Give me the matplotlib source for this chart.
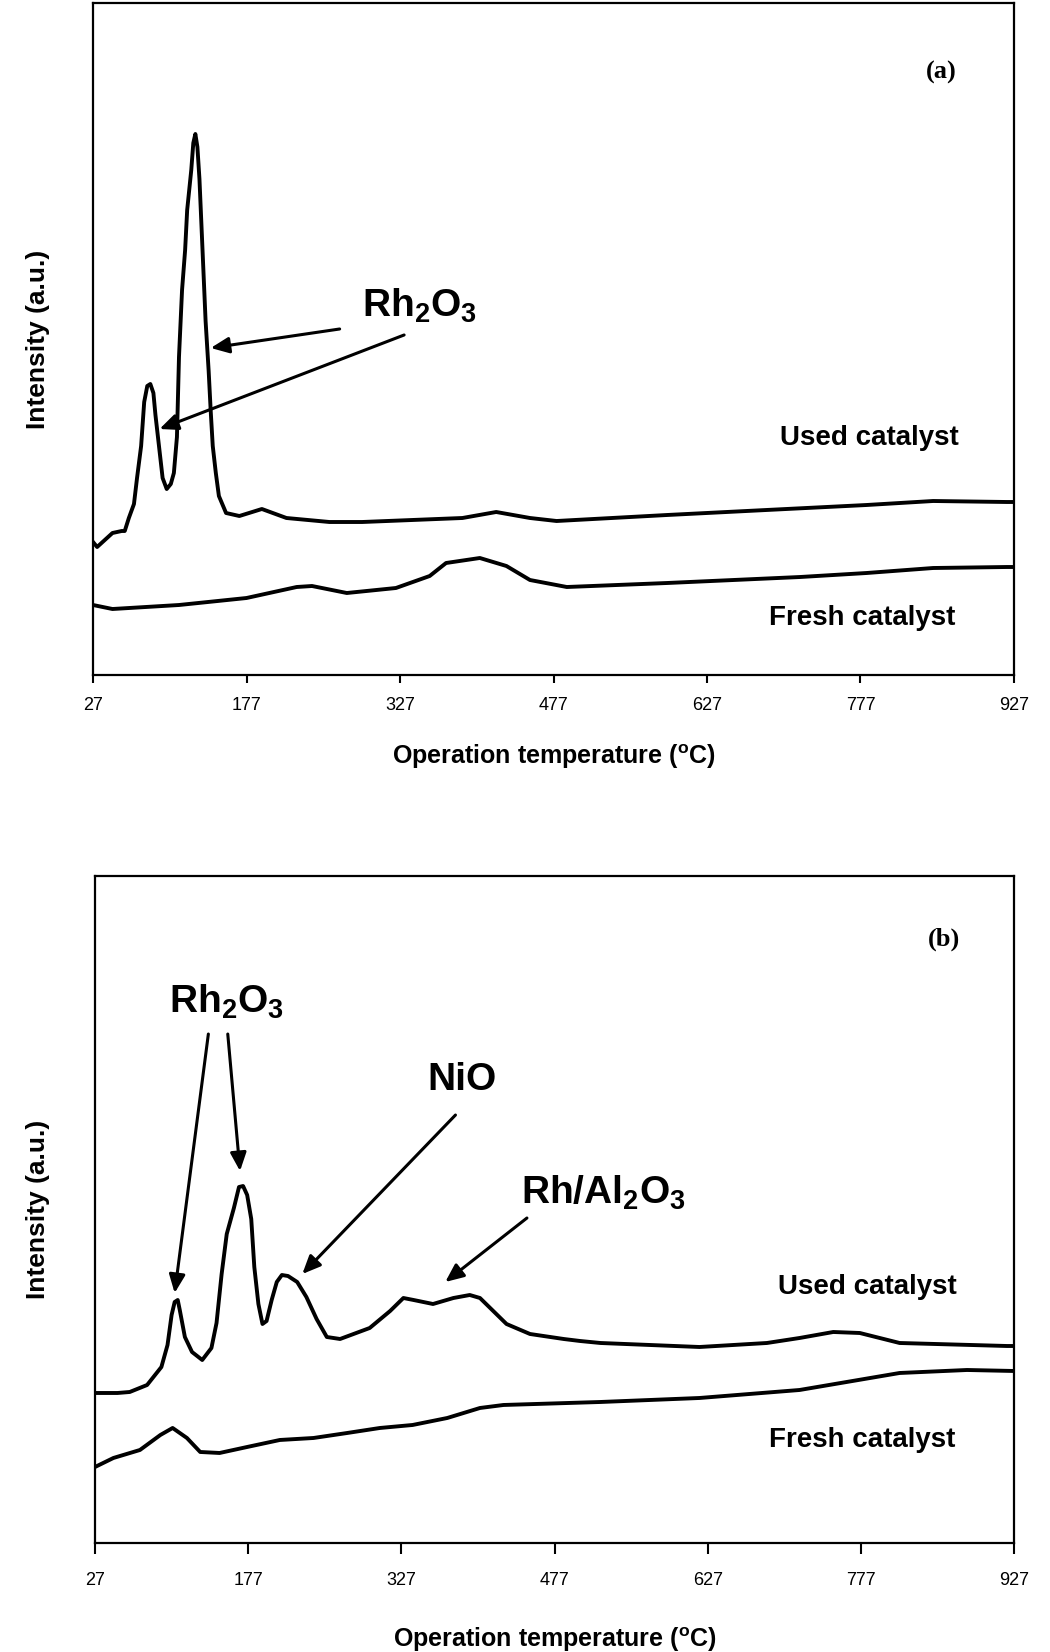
import numpy as np
import matplotlib
matplotlib.use("Agg")
import matplotlib.pyplot as plt

plt.rcParams['font.family'] = ['Liberation Sans', 'DejaVu Sans']
plt.rcParams['mathtext.fontset'] = 'custom'
plt.rcParams['mathtext.rm'] = 'Liberation Sans'
plt.rcParams['mathtext.it'] = 'Liberation Sans'
plt.rcParams['mathtext.bf'] = 'Liberation Sans:bold'
plt.rcParams['mathtext.default'] = 'regular'

# ---- panel (a) data: temperature (C) vs intensity (a.u.) ----
temp_a_used = [27, 31, 46, 55, 58, 62, 67, 70, 74, 77, 80, 83, 86, 88, 92, 95, 99,
               103, 106, 109, 111, 114, 117, 119, 123, 125, 127, 129, 131, 134,
               137, 140, 142, 144, 147, 150, 157, 170, 192, 216, 258, 290, 339,
               388, 421, 454, 480, 588, 685, 783, 848, 920, 927]
int_a_used = [133, 128, 142, 144, 144, 157, 171, 197, 229, 273, 289, 291, 282, 260,
              224, 197, 186, 191, 202, 238, 318, 385, 425, 465, 505, 532, 541,
              528, 496, 425, 354, 304, 264, 229, 202, 179, 162, 159, 166, 157,
              153, 153, 155, 157, 163, 157, 154, 160, 165, 170, 174, 173, 173]

temp_a_fresh = [27, 46, 111, 177, 226, 241, 275, 323, 356, 372, 405, 431, 454,
                490, 588, 718, 783, 848, 920, 927]
int_a_fresh = [70, 66, 70, 77, 88, 89, 82, 87, 99, 112, 117, 109, 95,
               88, 92, 98, 102, 107, 108, 108]

# ---- panel (b) data ----
temp_b_used = [27, 49, 61, 78, 92, 98, 102, 105, 108, 110, 115, 122, 132, 141, 146,
               151, 156, 163, 168, 172, 176, 180, 183, 187, 191, 195, 200, 205,
               210, 216, 225, 234, 244, 254, 267, 296, 316, 329, 339, 358, 378,
               394, 404, 417, 430, 453, 486, 502, 522, 619, 685, 717, 750, 776,
               815, 920, 927]
int_b_used = [150, 150, 151, 158, 176, 198, 228, 241, 243, 233, 206, 191, 183, 195,
              220, 269, 309, 335, 356, 357, 348, 324, 276, 239, 219, 222, 243, 261,
              268, 267, 261, 246, 224, 206, 204, 215, 232, 245, 243, 239, 245,
              248, 245, 232, 219, 209, 204, 202, 200, 196, 200, 205, 211, 210,
              200, 197, 197]

temp_b_fresh = [27, 45, 71, 91, 103, 117, 130, 149, 176, 208, 241, 274, 306, 338,
                372, 404, 427, 522, 619, 717, 815, 881, 927]
int_b_fresh = [76, 85, 93, 108, 115, 105, 91, 90, 96, 103, 105, 110, 115, 118,
               125, 135, 138, 141, 145, 153, 170, 173, 172]

xticks = [27, 177, 327, 477, 627, 777, 927]

fig = plt.figure(figsize=(10.5, 16.52), dpi=100)
ax_a = fig.add_axes([0.0886, 0.5914, 0.8771, 0.4068])
ax_b = fig.add_axes([0.0905, 0.066, 0.8752, 0.4037])

bold_big = dict(fontsize=28, fontweight='bold', ha='center', va='center')
lab = dict(fontsize=20, fontweight='bold', ha='center', va='center')
arr = dict(arrowstyle='-|>,head_length=0.5,head_width=0.22', lw=2.2, color='k',
           mutation_scale=22, shrinkA=0, shrinkB=0)

for ax, ylim in [(ax_a, 672), (ax_b, 667)]:
    ax.set_xlim(27, 927)
    ax.set_ylim(0, ylim)
    ax.set_xticks(xticks)
    ax.set_xticklabels([str(t) for t in xticks], fontsize=13)
    ax.set_yticks([])
    for s in ax.spines.values():
        s.set_linewidth(1.6)
    ax.set_xlabel('Operation temperature ($^{o}$C)', fontsize=18, fontweight='bold')
    ax.set_ylabel('Intensity (a.u.)', fontsize=19, fontweight='bold')

ax_a.tick_params(axis='x', direction='out', length=6, width=1.5, pad=10)
ax_b.tick_params(axis='x', direction='out', length=8, width=1.5, pad=13)
ax_a.xaxis.set_label_coords(0.5, -0.0997)
ax_b.xaxis.set_label_coords(0.5, -0.123)
ax_a.yaxis.set_label_coords(-0.047, 0.5)
ax_b.yaxis.set_label_coords(-0.049, 0.5)

# panel (a)
ax_a.plot(temp_a_used, int_a_used, color='k', lw=2.8)
ax_a.plot(temp_a_fresh, int_a_fresh, color='k', lw=2.8)
ax_a.text(786, 237, 'Used catalyst', **lab)
ax_a.text(779, 57, 'Fresh catalyst', **lab)
ax_a.text(346, 369, 'Rh$_2$O$_3$', **bold_big)
ax_a.annotate('', xy=(142, 327), xytext=(268, 346), arrowprops=arr)
ax_a.annotate('', xy=(92, 246), xytext=(331, 340), arrowprops=arr)
ax_a.text(856, 603, '(a)', fontsize=19, fontweight='bold',
          family='Liberation Serif', ha='center', va='center')

# panel (b)
ax_b.plot(temp_b_used, int_b_used, color='k', lw=2.8)
ax_b.plot(temp_b_fresh, int_b_fresh, color='k', lw=2.8)
ax_b.text(783, 256, 'Used catalyst', **lab)
ax_b.text(778, 103, 'Fresh catalyst', **lab)
ax_b.text(156, 541, 'Rh$_2$O$_3$', **bold_big)
ax_b.annotate('', xy=(105, 250), xytext=(138, 509), arrowprops=arr)
ax_b.annotate('', xy=(169, 372), xytext=(157, 509), arrowprops=arr)
ax_b.text(386, 463, 'NiO', **bold_big)
ax_b.annotate('', xy=(230, 269), xytext=(380, 428), arrowprops=arr)
ax_b.text(525, 350, 'Rh/Al$_2$O$_3$', **bold_big)
ax_b.annotate('', xy=(370, 261), xytext=(450, 325), arrowprops=arr)
ax_b.text(858, 604, '(b)', fontsize=19, fontweight='bold',
          family='Liberation Serif', ha='center', va='center')

fig.savefig('out.png', dpi=100, facecolor='white')
